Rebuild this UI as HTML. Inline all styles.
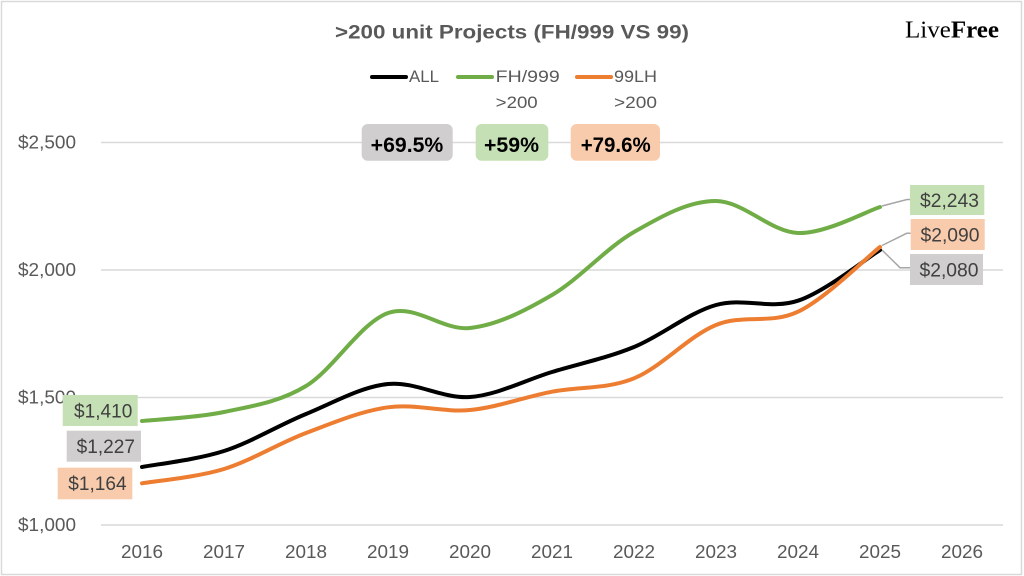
<!DOCTYPE html>
<html>
<head>
<meta charset="utf-8">
<style>
html,body{margin:0;padding:0;background:#fff;}
svg{display:block;}
text{font-family:"Liberation Sans",sans-serif;}
</style>
</head>
<body>
<svg width="1024" height="576" viewBox="0 0 1024 576" xmlns="http://www.w3.org/2000/svg">
<rect x="0" y="0" width="1024" height="576" fill="#fff"/>
<rect x="1.5" y="1.5" width="1020" height="573" fill="none" stroke="#D9D9D9" stroke-width="1.5"/>

<!-- gridlines -->
<g stroke="#D9D9D9" stroke-width="1.5">
<line x1="101" y1="142.5" x2="1003" y2="142.5"/>
<line x1="101" y1="270" x2="1003" y2="270"/>
<line x1="101" y1="397.5" x2="1003" y2="397.5"/>
<line x1="101" y1="525" x2="1003" y2="525"/>
</g>

<!-- y axis labels -->
<g font-size="18.5" fill="#595959">
<text x="18" y="148.5" textLength="58" lengthAdjust="spacingAndGlyphs">$2,500</text>
<text x="18" y="276" textLength="58" lengthAdjust="spacingAndGlyphs">$2,000</text>
<text x="18" y="403.5" textLength="58" lengthAdjust="spacingAndGlyphs">$1,500</text>
<text x="18" y="531" textLength="58" lengthAdjust="spacingAndGlyphs">$1,000</text>
</g>

<!-- x axis labels -->
<g font-size="18.5" fill="#595959">
<text x="121" y="558" textLength="42" lengthAdjust="spacingAndGlyphs">2016</text>
<text x="203" y="558" textLength="42" lengthAdjust="spacingAndGlyphs">2017</text>
<text x="285" y="558" textLength="42" lengthAdjust="spacingAndGlyphs">2018</text>
<text x="367" y="558" textLength="42" lengthAdjust="spacingAndGlyphs">2019</text>
<text x="449" y="558" textLength="42" lengthAdjust="spacingAndGlyphs">2020</text>
<text x="531" y="558" textLength="42" lengthAdjust="spacingAndGlyphs">2021</text>
<text x="613" y="558" textLength="42" lengthAdjust="spacingAndGlyphs">2022</text>
<text x="695" y="558" textLength="42" lengthAdjust="spacingAndGlyphs">2023</text>
<text x="777" y="558" textLength="42" lengthAdjust="spacingAndGlyphs">2024</text>
<text x="859" y="558" textLength="42" lengthAdjust="spacingAndGlyphs">2025</text>
<text x="941" y="558" textLength="42" lengthAdjust="spacingAndGlyphs">2026</text>
</g>

<!-- title -->
<text x="335" y="38.5" font-size="19" font-weight="bold" fill="#595959" textLength="354" lengthAdjust="spacingAndGlyphs">&gt;200 unit Projects (FH/999 VS 99)</text>
<text x="905" y="37.3" font-size="24" fill="#000" style="font-family:'Liberation Serif',serif" textLength="94" lengthAdjust="spacingAndGlyphs">Live<tspan font-weight="bold">Free</tspan></text>

<!-- legend -->
<g stroke-width="4" stroke-linecap="round">
<line x1="372" y1="77" x2="406" y2="77" stroke="#000"/>
<line x1="458" y1="77" x2="492" y2="77" stroke="#70AD47"/>
<line x1="577" y1="77" x2="611" y2="77" stroke="#ED7D31"/>
</g>
<g font-size="17" fill="#595959">
<text x="409" y="81.8" textLength="30" lengthAdjust="spacingAndGlyphs">ALL</text>
<text x="495.7" y="81.8" textLength="64" lengthAdjust="spacingAndGlyphs">FH/999</text>
<text x="495.7" y="107.8" textLength="42" lengthAdjust="spacingAndGlyphs">&gt;200</text>
<text x="614" y="81.8" textLength="43" lengthAdjust="spacingAndGlyphs">99LH</text>
<text x="614" y="107.8" textLength="43" lengthAdjust="spacingAndGlyphs">&gt;200</text>
</g>

<!-- percent boxes -->
<rect x="361.7" y="124" width="91" height="36.7" rx="6" fill="#D0CECE"/>
<rect x="475.7" y="124" width="72.6" height="36.7" rx="6" fill="#C5E0B4"/>
<rect x="570.7" y="124" width="89.3" height="36.7" rx="6" fill="#F8CBAD"/>
<g font-size="21" font-weight="bold" fill="#000">
<text x="370.7" y="151.8" textLength="72.6" lengthAdjust="spacingAndGlyphs">+69.5%</text>
<text x="484" y="151.8" textLength="55" lengthAdjust="spacingAndGlyphs">+59%</text>
<text x="580.7" y="151.8" textLength="70" lengthAdjust="spacingAndGlyphs">+79.6%</text>
</g>

<!-- left data labels -->
<rect x="62.7" y="395" width="75" height="31" fill="#C5E0B4"/>
<rect x="66.7" y="430.7" width="74.3" height="31" fill="#D0CECE"/>
<rect x="57.7" y="467.7" width="74.6" height="31.6" fill="#F8CBAD"/>
<g font-size="19" fill="#404040">
<text x="74" y="417.3" textLength="58.3" lengthAdjust="spacingAndGlyphs">$1,410</text>
<text x="76.7" y="453" textLength="58.3" lengthAdjust="spacingAndGlyphs">$1,227</text>
<text x="68.3" y="490" textLength="58.3" lengthAdjust="spacingAndGlyphs">$1,164</text>
</g>

<!-- right leader lines -->
<g stroke="#A6A6A6" stroke-width="1.5" fill="none">
<polyline points="882,206 907,199.5 910,199.5"/>
<polyline points="882,245.5 906.7,233.3 910.7,233.3"/>
<polyline points="882,250 900,267.7 910,267.7"/>
</g>

<!-- series -->
<g fill="none" stroke-width="4" stroke-linecap="round" stroke-linejoin="round">
<path stroke="#000" d="M142,467 C155.67,464.33 196.67,459.83 224,451 C251.33,442.17 278.67,425.17 306,414 C333.33,402.83 360.67,386.83 388,384 C415.33,381.17 442.67,399 470,397 C497.33,395 524.67,380.33 552,372 C579.33,363.67 606.67,358.17 634,347 C661.33,335.83 688.67,312.72 716,305 C743.33,297.28 770.67,309.87 798,300.7 C825.33,291.53 866.33,258.45 880,250"/>
<path stroke="#70AD47" d="M142,421 C155.67,419.5 196.67,417.83 224,412 C251.33,406.17 278.67,402.5 306,386 C333.33,369.5 360.67,322.67 388,313 C415.33,303.33 442.67,331 470,328 C497.33,325 524.67,311 552,295 C579.33,279 606.67,247.67 634,232 C661.33,216.33 688.67,200.83 716,201 C743.33,201.17 770.67,232 798,233 C825.33,234 866.33,211.33 880,207"/>
<path stroke="#ED7D31" d="M142,483.3 C155.67,480.92 196.67,477.38 224,469 C251.33,460.62 278.67,443.28 306,433 C333.33,422.72 360.67,411.13 388,407.3 C415.33,403.47 442.67,412.6 470,410 C497.33,407.4 524.67,396.98 552,391.7 C579.33,386.42 606.67,389.42 634,378.3 C661.33,367.18 688.67,336.1 716,325 C743.33,313.9 770.67,324.7 798,311.7 C825.33,298.7 866.33,257.78 880,247"/>
</g>

<!-- right data labels -->
<rect x="910" y="185" width="74.3" height="30" fill="#C5E0B4"/>
<rect x="910.7" y="219" width="74" height="31" fill="#F8CBAD"/>
<rect x="910" y="254" width="73" height="31" fill="#D0CECE"/>
<g font-size="19" fill="#404040">
<text x="920" y="207" textLength="59" lengthAdjust="spacingAndGlyphs">$2,243</text>
<text x="920.5" y="241.3" textLength="59" lengthAdjust="spacingAndGlyphs">$2,090</text>
<text x="919.5" y="276.3" textLength="59" lengthAdjust="spacingAndGlyphs">$2,080</text>
</g>
</svg>
</body>
</html>
